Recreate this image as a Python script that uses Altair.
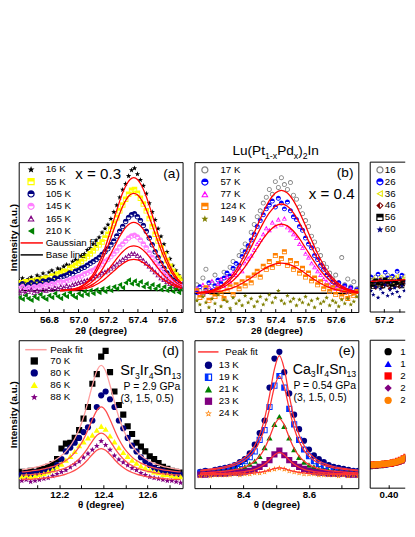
import json, math
import altair as alt
import pandas as pd

FONT = "Liberation Sans"

# ---------------- panel (a): Lu(Pt1-xPdx)2In, x = 0.3 ----------------
A_LABELS = ["16 K", "55 K", "105 K", "145 K", "165 K", "210 K"]
A_X = [56.60, 56.62, 56.64, 56.66, 56.68, 56.70, 56.72, 56.74, 56.76, 56.78, 56.80, 56.82, 56.84, 56.86,
       56.88, 56.90, 56.92, 56.94, 56.96, 56.98, 57.00, 57.02, 57.04, 57.06, 57.08, 57.10, 57.12, 57.14,
       57.16, 57.18, 57.20, 57.22, 57.24, 57.26, 57.28, 57.30, 57.32, 57.34, 57.36, 57.38, 57.40, 57.42,
       57.44, 57.46, 57.48, 57.50, 57.52, 57.54, 57.56, 57.58, 57.60, 57.62, 57.64, 57.66, 57.68, 57.70]
A_16K = [32, 35, 31, 34, 36, 33, 38, 36, 40, 37, 41, 43, 40, 45, 44, 47, 49, 48, 52, 54, 53, 58, 60, 64, 66, 70,
         74, 77, 82, 86, 90, 96, 103, 110, 118, 126, 132, 140, 146, 148, 142, 136, 130, 122, 112, 103, 95, 86,
         78, 70, 62, 55, 48, 43, 38, 34]
A_55K = [30, 28, 31, 29, 32, 30, 33, 31, 34, 35, 33, 37, 36, 39, 40, 42, 41, 45, 46, 48, 50, 52, 55, 57, 60, 63,
         66, 69, 72, 76, 80, 85, 91, 97, 104, 110, 116, 121, 125, 126, 122, 117, 111, 104, 96, 88, 80, 73, 66,
         59, 53, 47, 42, 38, 35, 32]
A_105K = [27, 29, 26, 28, 30, 28, 31, 29, 32, 31, 33, 32, 35, 34, 36, 37, 38, 40, 39, 42, 43, 45, 46, 48, 50, 52,
          54, 56, 59, 62, 65, 69, 73, 78, 83, 88, 93, 97, 100, 101, 98, 94, 89, 83, 76, 69, 62, 56, 50, 45, 40,
          36, 33, 31, 29, 28]
A_145K = [24, 26, 23, 25, 24, 26, 25, 27, 26, 28, 27, 29, 28, 30, 31, 30, 32, 33, 34, 35, 36, 37, 39, 40, 42, 43,
          45, 47, 49, 52, 54, 57, 60, 63, 67, 70, 73, 76, 78, 79, 77, 74, 70, 66, 61, 56, 51, 47, 43, 39, 36, 33,
          31, 29, 27, 26]
A_165K = [20, 22, 19, 21, 23, 20, 22, 21, 23, 22, 24, 23, 25, 24, 26, 25, 27, 26, 28, 29, 30, 31, 32, 33, 34, 35,
          37, 38, 40, 41, 43, 45, 47, 49, 52, 54, 56, 58, 60, 60, 58, 56, 53, 50, 47, 44, 41, 38, 35, 33, 31, 29,
          27, 26, 25, 24]
A_210K = [15, 13, 17, 14, 12, 16, 14, 18, 15, 13, 17, 15, 19, 16, 14, 18, 16, 20, 17, 15, 19, 17, 21, 18, 22, 19,
          23, 20, 24, 21, 25, 22, 26, 24, 28, 25, 30, 33, 29, 32, 28, 31, 26, 29, 25, 28, 24, 27, 23, 26, 22, 25,
          21, 24, 20, 23]
A_FIT_X = [56.875, 56.9, 56.925, 56.95, 56.975, 57.0, 57.025, 57.05, 57.075, 57.1, 57.125, 57.15, 57.175, 57.2,
           57.225, 57.25, 57.275, 57.3, 57.325, 57.35, 57.375, 57.4, 57.425, 57.45, 57.475, 57.5, 57.525, 57.55,
           57.575, 57.6, 57.625, 57.65, 57.675, 57.7]
A_FIT_16K = [22.2, 22.4, 22.7, 23.2, 24.0, 25.2, 27.1, 29.8, 33.7, 38.9, 45.6, 53.9, 63.8, 75.1, 87.3, 99.9, 111.9,
             122.5, 130.8, 136.2, 138.0, 136.2, 130.8, 122.5, 111.9, 99.9, 87.3, 75.1, 63.8, 53.9, 45.6, 38.9,
             33.7, 29.8]
A_FIT_55K = [22.2, 22.3, 22.6, 23.0, 23.7, 24.8, 26.4, 28.8, 32.1, 36.5, 42.3, 49.5, 58.0, 67.8, 78.3, 89.1, 99.5,
             108.7, 115.8, 120.4, 122.0, 120.4, 115.8, 108.7, 99.5, 89.1, 78.3, 67.8, 58.0, 49.5, 42.3, 36.5,
             32.1, 28.8]
A_FIT_105K = [22.1, 22.2, 22.4, 22.7, 23.2, 23.9, 25.1, 26.7, 29.0, 32.2, 36.2, 41.2, 47.2, 54.1, 61.4, 69.0, 76.3,
              82.7, 87.7, 90.9, 92.0, 90.9, 87.7, 82.7, 76.3, 69.0, 61.4, 54.1, 47.2, 41.2, 36.2, 32.2, 29.0, 26.7]
A_FIT_145K = [22.1, 22.1, 22.3, 22.5, 22.8, 23.3, 24.0, 25.1, 26.6, 28.7, 31.3, 34.6, 38.6, 43.1, 47.9, 52.9, 57.7,
              61.9, 65.2, 67.3, 68.0, 67.3, 65.2, 61.9, 57.7, 52.9, 47.9, 43.1, 38.6, 34.6, 31.3, 28.7, 26.6, 25.1]
A_FIT_165K = [22.1, 22.1, 22.2, 22.3, 22.5, 22.9, 23.4, 24.2, 25.2, 26.6, 28.5, 30.8, 33.5, 36.7, 40.0, 43.5, 46.8,
              49.7, 52.0, 53.5, 54.0, 53.5, 52.0, 49.7, 46.8, 43.5, 40.0, 36.7, 33.5, 30.8, 28.5, 26.6, 25.2, 24.2]
A_BASE_X = [56.595, 57.706]
A_BASE_Y = [22, 22]
A_XDOM = [56.595, 57.706]
A_MAJOR = [56.8, 57.0, 57.2, 57.4, 57.6]
A_MINOR = [56.7, 56.9, 57.1, 57.3, 57.5, 57.7]

# ---------------- panel (b): x = 0.4 ----------------
B_LABELS = ["17 K", "57 K", "77 K", "124 K", "149 K"]
B_X = [57.14, 57.15, 57.16, 57.17, 57.18, 57.19, 57.20, 57.21, 57.22, 57.23, 57.24, 57.25, 57.26, 57.27, 57.28,
       57.29, 57.30, 57.31, 57.32, 57.33, 57.34, 57.35, 57.36, 57.37, 57.38, 57.39, 57.40, 57.41, 57.42, 57.43,
       57.44, 57.45, 57.46, 57.47, 57.48, 57.49, 57.50, 57.51, 57.52, 57.53, 57.54, 57.55, 57.56, 57.57, 57.58,
       57.59, 57.60, 57.61, 57.62, 57.63, 57.64, 57.65, 57.66, 57.67]
B_17K = [28, 22, 35, 44, 24, 30, 38, 27, 33, 41, 36, 46, 52, 44, 58, 63, 70, 66, 82, 90, 98, 104, 112, 118, 126,
         121, 134, 128, 138, 131, 126, 133, 120, 116, 108, 101, 94, 88, 78, 72, 64, 58, 50, 46, 40, 34, 38, 30,
         56, 28, 34, 26, 31, 24]
B_57K = [20, 26, 18, 23, 30, 22, 27, 33, 29, 35, 40, 37, 45, 50, 48, 57, 62, 68, 74, 80, 88, 94, 100, 106, 110,
         114, 108, 117, 112, 106, 113, 104, 98, 95, 88, 84, 76, 70, 66, 58, 54, 48, 44, 38, 36, 31, 28, 30, 24,
         27, 22, 25, 20, 23]
B_77K = [24, 19, 28, 21, 26, 32, 23, 29, 34, 27, 36, 31, 40, 38, 45, 42, 50, 55, 58, 64, 70, 74, 80, 86, 84, 92,
         88, 95, 90, 96, 87, 84, 80, 76, 70, 66, 60, 56, 50, 46, 42, 38, 34, 31, 28, 26, 24, 27, 22, 25, 21, 24,
         20, 22]
B_124K = [22, 15, 18, 25, 12, 20, 16, 24, 19, 14, 22, 26, 18, 28, 24, 31, 27, 35, 30, 38, 42, 36, 47, 44, 52, 46,
          58, 50, 55, 62, 48, 53, 44, 50, 40, 45, 36, 40, 32, 35, 28, 31, 24, 27, 21, 25, 18, 22, 16, 20, 14, 19,
          17, 21]
B_149K = [12, 8, 16, 10, 5, 14, 9, 18, 6, 13, 11, 4, 15, 9, 12, 7, 17, 10, 14, 6, 11, 16, 8, 13, 18, 10, 15, 22,
          12, 9, 17, 11, 14, 7, 13, 10, 16, 8, 12, 5, 14, 9, 11, 15, 7, 12, 10, 6, 13, 9, 14, 8, 11, 16]
B_FIT_X = [57.14, 57.16, 57.18, 57.2, 57.22, 57.24, 57.26, 57.28, 57.3, 57.32, 57.34, 57.36, 57.38, 57.4, 57.42,
           57.44, 57.46, 57.48, 57.5, 57.52, 57.54, 57.56, 57.58, 57.6, 57.62, 57.64, 57.66, 57.68]
B_FIT_17K = [19.9, 20.5, 21.6, 23.6, 26.8, 31.8, 38.8, 48.3, 60.1, 73.9, 88.6, 102.6, 114.4, 122.2, 125.0, 122.2,
             114.4, 102.6, 88.6, 73.9, 60.1, 48.3, 38.8, 31.8, 26.8, 23.6, 21.6, 20.5]
B_FIT_57K = [19.8, 20.4, 21.3, 23.1, 25.8, 30.1, 36.2, 44.4, 54.7, 66.7, 79.4, 91.6, 101.8, 108.6, 111.0, 108.6,
             101.8, 91.6, 79.4, 66.7, 54.7, 44.4, 36.2, 30.1, 25.8, 23.1, 21.3, 20.4]
B_FIT_77K = [19.7, 20.1, 20.9, 22.2, 24.4, 27.7, 32.4, 38.8, 46.7, 56.0, 65.8, 75.3, 83.2, 88.5, 90.3, 88.5, 83.2,
             75.3, 65.8, 56.0, 46.7, 38.8, 32.4, 27.7, 24.4, 22.2, 20.9, 20.1]
B_FIT_124K = [19.5, 19.7, 20.0, 20.6, 21.5, 23.0, 25.0, 27.8, 31.3, 35.3, 39.6, 43.7, 47.2, 49.5, 50.3, 49.5, 47.2,
              43.7, 39.6, 35.3, 31.3, 27.8, 25.0, 23.0, 21.5, 20.6, 20.0, 19.7]
B_BASE_X = [57.132, 57.675]
B_BASE_Y = [19.3, 19.3]
B_XDOM = [57.132, 57.675]
B_MAJOR = [57.2, 57.3, 57.4, 57.5, 57.6]
B_MINOR = [57.15, 57.25, 57.35, 57.45, 57.55, 57.65]

# ---------------- panel (c): only its left strip is inside the window ----------------
C_LABELS = ["16", "26", "36", "46", "56", "60"]
C_X = [57.156, 57.164, 57.172, 57.180, 57.188, 57.196, 57.204, 57.212, 57.220, 57.228, 57.236, 57.244, 57.252,
       57.260, 57.268]
C_16K = [33, 28, 36, 30, 26, 34, 29, 38, 27, 32, 35, 28, 33, 30, 37]
C_26K = [36, 31, 27, 39, 33, 29, 41, 35, 30, 37, 32, 42, 34, 38, 31]
C_36K = [30, 34, 28, 32, 36, 29, 33, 31, 35, 28, 34, 37, 30, 33, 36]
C_46K = [27, 31, 25, 29, 33, 26, 30, 28, 24, 32, 27, 30, 26, 31, 29]
C_56K = [29, 26, 32, 28, 30, 27, 33, 29, 31, 26, 30, 28, 32, 27, 31]
C_60K = [22, 18, 26, 15, 24, 20, 28, 17, 23, 19, 25, 21, 16, 27, 22]
C_FIT_X = [57.154, 57.17, 57.19, 57.21, 57.23, 57.25, 57.27, 57.29]
C_FIT_Y = [31.6, 31.8, 32.0, 32.2, 32.5, 32.8, 33.2, 33.7]
C_BASE_X = [57.1535, 57.2712]
C_BASE_Y = [30.3, 30.3]
C_XDOM = [57.1535, 57.2712]
C_MAJOR = [57.2]
C_MINOR = [57.25]

# ---------------- panel (d): Sr3Ir4Sn13 ----------------
D_LABELS = ["70 K", "80 K", "86 K", "88 K"]
D_X = [12.03, 12.05, 12.07, 12.09, 12.11, 12.13, 12.15, 12.17, 12.19, 12.21, 12.23, 12.25, 12.27, 12.29, 12.31,
       12.33, 12.35, 12.37, 12.39, 12.41, 12.43, 12.45, 12.47, 12.49, 12.51, 12.53, 12.55, 12.57, 12.59, 12.61,
       12.63, 12.65, 12.67, 12.69, 12.71, 12.73, 12.75]
D_70K = [17, 16, 18, 17, 19, 20, 22, 25, 30, 41, 46, 47, 52, 60, 72, 84, 108, 118, 136, 142, 120, 100, 86, 76, 64,
         56, 47, 43, 38, 33, 30, 26, 22, 20, 18, 17, 16]
D_80K = [14, 15, 14, 16, 15, 17, 18, 20, 24, 30, 38, 42, 47, 52, 58, 63, 70, 84, 96, 100, 92, 84, 70, 62, 52, 44,
         38, 32, 28, 24, 21, 19, 18, 16, 15, 15, 14]
D_86K = [12, 13, 12, 13, 14, 15, 17, 19, 22, 25, 29, 33, 38, 44, 48, 52, 55, 60, 64, 61, 54, 48, 42, 37, 33, 29,
         26, 23, 21, 19, 17, 16, 14, 14, 13, 12, 12]
D_88K = [8, 9, 7, 8, 9, 10, 11, 13, 15, 17, 19, 22, 25, 28, 32, 36, 40, 44, 49, 45, 40, 34, 30, 27, 24, 21, 19, 16,
         14, 12, 11, 10, 9, 8, 8, 7, 6]
D_FIT_70K = [19.0, 19.7, 20.5, 21.5, 22.6, 24.0, 25.7, 27.8, 30.4, 33.7, 38.1, 43.7, 51.1, 60.9, 73.4, 89.1, 106.4,
             121.1, 127.0, 121.1, 106.4, 89.1, 73.4, 60.9, 51.1, 43.7, 38.1, 33.7, 30.4, 27.8, 25.7, 24.0, 22.6,
             21.5, 20.5, 19.7, 19.0]
D_FIT_80K = [16.8, 17.2, 17.7, 18.3, 19.0, 19.9, 20.9, 22.2, 23.9, 25.9, 28.6, 32.1, 36.7, 42.8, 50.6, 60.4, 71.1,
             80.3, 84.0, 80.3, 71.1, 60.4, 50.6, 42.8, 36.7, 32.1, 28.6, 25.9, 23.9, 22.2, 20.9, 19.9, 19.0, 18.3,
             17.7, 17.2, 16.8]
D_FIT_86K = [13.4, 13.7, 14.0, 14.4, 14.9, 15.4, 16.1, 17.0, 18.0, 19.4, 21.1, 23.4, 26.4, 30.3, 35.4, 41.7, 48.7,
             54.6, 57.0, 54.6, 48.7, 41.7, 35.4, 30.3, 26.4, 23.4, 21.1, 19.4, 18.0, 17.0, 16.1, 15.4, 14.9, 14.4,
             14.0, 13.7, 13.4]
D_FIT_88K = [8.8, 9.0, 9.2, 9.5, 9.9, 10.3, 10.8, 11.4, 12.2, 13.2, 14.5, 16.2, 18.4, 21.3, 25.0, 29.7, 34.8, 39.2,
             41.0, 39.2, 34.8, 29.7, 25.0, 21.3, 18.4, 16.2, 14.5, 13.2, 12.2, 11.4, 10.8, 10.3, 9.9, 9.5, 9.2,
             9.0, 8.8]
D_XDOM = [12.016, 12.759]
D_MAJOR = [12.2, 12.4, 12.6]
D_MINOR = [12.1, 12.3, 12.5, 12.7]

# ---------------- panel (e): Ca3Ir4Sn13 ----------------
E_LABELS = ["13 K", "19 K", "21 K", "23 K", "24 K"]
E_X = [8.27, 8.285, 8.30, 8.315, 8.33, 8.345, 8.36, 8.375, 8.39, 8.405, 8.42, 8.435, 8.45, 8.465, 8.48, 8.495,
       8.51, 8.525, 8.54, 8.555, 8.57, 8.585, 8.60, 8.615, 8.63, 8.645, 8.66, 8.675, 8.69, 8.705, 8.72, 8.735,
       8.75]
E_13K = [17, 18, 17, 19, 20, 21, 22, 24, 27, 30, 36, 45, 57, 70, 104, 134, 141, 120, 98, 76, 61, 49, 40, 34, 30,
         27, 24, 22, 21, 20, 19, 18, 18]
E_19K = [16, 17, 17, 18, 19, 20, 21, 23, 25, 28, 32, 38, 50, 60, 84, 106, 116, 104, 82, 66, 50, 40, 33, 28, 25,
         23, 21, 20, 19, 18, 17, 17, 16]
E_21K = [15, 15, 16, 16, 17, 17, 18, 19, 20, 22, 25, 28, 33, 42, 52, 66, 74, 64, 52, 40, 32, 27, 24, 22, 20, 19,
         18, 17, 17, 16, 16, 15, 15]
E_23K = [14, 14, 15, 15, 15, 15, 16, 16, 16, 17, 18, 20, 22, 25, 29, 35, 39, 34, 29, 25, 22, 20, 18, 17, 16, 16,
         15, 15, 15, 15, 14, 14, 14]
E_24K = [13, 14, 13, 14, 14, 14, 14, 15, 14, 15, 15, 16, 16, 17, 19, 20, 21, 20, 18, 17, 16, 15, 15, 15, 14, 14,
         14, 14, 13, 14, 13, 14, 13]
E_FIT_13K = [18.6, 19.1, 19.7, 20.4, 21.3, 22.4, 23.9, 25.8, 28.3, 31.8, 36.8, 44.1, 55.1, 71.8, 95.8, 123.2, 137.0,
             123.2, 95.8, 71.8, 55.1, 44.1, 36.8, 31.8, 28.3, 25.8, 23.9, 22.4, 21.3, 20.4, 19.7, 19.1, 18.6]
E_FIT_19K = [18.0, 18.4, 18.9, 19.5, 20.2, 21.1, 22.3, 23.9, 26.0, 28.9, 33.1, 39.1, 48.2, 62.0, 81.9, 104.6, 116.0,
             104.6, 81.9, 62.0, 48.2, 39.1, 33.1, 28.9, 26.0, 23.9, 22.3, 21.1, 20.2, 19.5, 18.9, 18.4, 18.0]
E_FIT_21K = [15.7, 16.0, 16.2, 16.6, 17.0, 17.5, 18.2, 19.1, 20.3, 22.0, 24.4, 27.8, 33.1, 41.0, 52.4, 65.4, 72.0,
             65.4, 52.4, 41.0, 33.1, 27.8, 24.4, 22.0, 20.3, 19.1, 18.2, 17.5, 17.0, 16.6, 16.2, 16.0, 15.7]
E_FIT_23K = [14.7, 14.8, 14.9, 15.0, 15.2, 15.4, 15.7, 16.0, 16.5, 17.2, 18.1, 19.5, 21.6, 24.7, 29.2, 34.4, 37.0,
             34.4, 29.2, 24.7, 21.6, 19.5, 18.1, 17.2, 16.5, 16.0, 15.7, 15.4, 15.2, 15.0, 14.9, 14.8, 14.7]
E_FIT_24K = [14.2, 14.2, 14.3, 14.3, 14.4, 14.4, 14.5, 14.6, 14.8, 15.0, 15.3, 15.7, 16.3, 17.3, 18.6, 20.2, 21.0,
             20.2, 18.6, 17.3, 16.3, 15.7, 15.3, 15.0, 14.8, 14.6, 14.5, 14.4, 14.4, 14.3, 14.3, 14.2, 14.2]
E_XDOM = [8.252, 8.75]
E_MAJOR = [8.4, 8.6]
E_MINOR = [8.3, 8.5, 8.7]

# ---------------- panel (f): only its left strip is inside the window ----------------
ZW = "\u200b"
F_LABELS = ["1", "1" + ZW, "2", "2" + ZW, "2" + ZW + ZW]
F_X = [0.381, 0.384, 0.387, 0.390, 0.393, 0.396, 0.399, 0.402, 0.405, 0.408, 0.411, 0.414, 0.417, 0.420, 0.423]
F_10K = [23, 23.5, 23.5, 24, 24, 24.5, 25, 25.5, 26, 26.5, 27.5, 28.5, 30, 31.5, 33.5]
F_15K = [23.5, 23.5, 24, 24, 24.5, 24.5, 25, 25.5, 26, 27, 27.5, 28.5, 30, 31.5, 33.5]
F_20K = [24, 24, 24, 24.5, 24.5, 25, 25.5, 25.5, 26.5, 27, 28, 29, 30.5, 32, 34]
F_22K = [23.5, 23.5, 24, 24, 24.5, 25, 25, 25.5, 26, 27, 27.5, 28.5, 30, 31.5, 33.5]
F_24K = [24, 24, 24.5, 24.5, 25, 25, 25.5, 26, 26.5, 27, 28, 29, 30.5, 32, 34]
F_XDOM = [0.38, 0.4184]
F_MAJOR = [0.40]
F_MINOR = []

# ---------------- marker shapes (unit paths) ----------------
def _n(v):
    s = f"{v:.3f}".rstrip("0").rstrip(".")
    return "0" if s in ("-0", "", "-") else s

def poly(pts):
    return "M" + "L".join(f"{_n(x)},{_n(y)}" for x, y in pts) + "Z"

def ring(pts, k):
    cx = sum(p[0] for p in pts) / len(pts)
    cy = sum(p[1] for p in pts) / len(pts)
    inner = [(cx + (x - cx) * k, cy + (y - cy) * k) for x, y in reversed(pts)]
    return poly(pts) + poly(inner)

STAR_PTS = [((1.0 if i % 2 == 0 else 0.42) * math.cos(-math.pi / 2 + i * math.pi / 5),
             (1.0 if i % 2 == 0 else 0.42) * math.sin(-math.pi / 2 + i * math.pi / 5) + 0.1) for i in range(10)]
STAR = poly(STAR_PTS)
STAR_OPEN = ring(STAR_PTS, 0.45)
CIRCLE_OPEN = ("M1,0A1,1,0,1,1,-1,0A1,1,0,1,1,1,0Z"
               "M0.66,0A0.66,0.66,0,1,0,-0.66,0A0.66,0.66,0,1,0,0.66,0Z")
HALF_CIRCLE = "M-1,0A1,1,0,0,1,1,0ZM1,0A1,1,0,0,1,-1,0L-0.66,0A0.66,0.66,0,0,0,0.66,0Z"
HALF_SQUARE = "M-1,-1L1,-1L1,0L-1,0ZM-1,0L-1,1L1,1L1,0L0.68,0L0.68,0.68L-0.68,0.68L-0.68,0Z"
HALF_SQUARE_LEFT = "M-1,-1L0,-1L0,1L-1,1ZM0,-1L1,-1L1,1L0,1L0,0.68L0.68,0.68L0.68,-0.68L0,-0.68Z"
HALF_TRIANGLE = ("M0,-1L0.556,0L-0.556,0Z"
                 "M-0.556,0L-1,0.8L1,0.8L0.556,0L0.236,0L0.52,0.52L-0.52,0.52L-0.236,0Z")
HALF_DIAMOND = "M0,-1L-1,0L0,1ZM0,-1L1,0L0,1L0,0.6L0.6,0L0,-0.6Z"
TRI_LEFT_OPEN = ring([(-1, 0), (0.8, -1), (0.8, 1)], 0.5)
LINE_SYMBOL = "M-2,0L2,0"

A_COLORS = ["#000000", "#ffff00", "#000080", "#ff80ff", "#800080", "#008000"]
A_SHAPES = [STAR, HALF_SQUARE, HALF_CIRCLE, HALF_CIRCLE, HALF_TRIANGLE, "triangle-left"]
B_COLORS = ["#808080", "#0000ff", "#ff00ff", "#ff8000", "#808000"]
B_SHAPES = [CIRCLE_OPEN, HALF_CIRCLE, HALF_TRIANGLE, HALF_SQUARE, STAR]
C_COLORS = ["#808080", "#0000ff", "#e6e600", "#800000", "#000000", "#000080"]
C_SHAPES = [CIRCLE_OPEN, HALF_CIRCLE, TRI_LEFT_OPEN, HALF_DIAMOND, HALF_SQUARE, STAR]
D_COLORS = ["#000000", "#000080", "#ffff00", "#800080"]
D_SHAPES = ["square", "circle", "triangle-up", STAR]
E_COLORS = ["#000080", "#0033ff", "#008000", "#800080", "#ff8000"]
E_SHAPES = ["circle", HALF_SQUARE_LEFT, "triangle-up", "square", STAR_OPEN]
F_COLORS = ["#000000", "#0000ff", "#ff0000", "#800080", "#ff8000"]
F_SHAPES = ["circle", "triangle-up", "square", "diamond", "circle"]

# ---------------- helpers ----------------
WIDTHS = {" ": 278, "(": 333, ")": 333, ",": 278, ".": 278, "-": 333, "=": 584, "x": 500, "a": 556,
          "d": 556, "n": 556, "r": 333, "t": 278, "u": 556, "S": 667, "I": 278, "C": 722, "L": 556, "P": 667,
          "G": 778}

def text_w(s, size):
    return sum(WIDTHS.get(ch, 556) for ch in s) * size / 1000.0

def long_df(xs, labels, series):
    rows = []
    for lab, ys in zip(labels, series):
        assert len(ys) == len(xs), (lab, len(ys), len(xs))
        for xv, yv in zip(xs, ys):
            rows.append({"x": xv, "y": yv, "T": lab})
    return pd.DataFrame(rows)

def txt(s, x, y, size, align="left", baseline="middle"):
    return alt.Chart(pd.DataFrame({"t": [s]})).mark_text(
        align=align, baseline=baseline, fontSize=size, font=FONT, color="black"
    ).encode(text="t:N", x=alt.value(x), y=alt.value(y))

def rich(segs, x0, y0):
    out, x = [], x0
    for s, size, dy in segs:
        out.append(txt(s, x, y0 + dy, size, align="left", baseline="alphabetic"))
        x += text_w(s, size)
    return out

def xaxis(title, major, minor, fmt, label_pad, title_pad):
    expr = "indexof(%s, datum.value) >= 0 ? datum.label : ''" % json.dumps(major)
    kw = dict(values=sorted(major + minor), format=fmt, labelExpr=expr,
              tickSize=3.5, offset=-3.5, domain=False, grid=False, labelPadding=label_pad,
              labelOverlap=False, labelFlush=False, tickColor="black", tickWidth=1)
    if title:
        return alt.Axis(title=title, titlePadding=title_pad, **kw)
    return alt.Axis(title=None, **kw)

YAXIS_T = alt.Axis(title="Intensity (a.u.)", labels=False, ticks=False, domain=False, grid=False,
                   titlePadding=0.5, titleFontSize=10.2)

def enc(xdom, ydom, xax, yax):
    return dict(x=alt.X("x:Q", scale=alt.Scale(domain=xdom, nice=False, zero=False), axis=xax),
                y=alt.Y("y:Q", scale=alt.Scale(domain=ydom, nice=False, zero=False), axis=yax))

# Vega legend layout: column width = max(ceil(sqrt(size) + strokeWidth), labelFontSize);
# symbol centre = legendX + width / 2, label start = legendX + width + labelOffset.
def pt_legend(x, y, row_pad, label_off, size=56):
    return alt.Legend(title=None, orient="none", legendX=x, legendY=y, padding=0, rowPadding=row_pad,
                      labelOffset=label_off, symbolSize=size, symbolStrokeWidth=0, symbolOpacity=1,
                      labelFontSize=10, labelFont=FONT, labelColor="black", labelLimit=0)

def line_legend(x, y, row_pad, label_off, size):
    return alt.Legend(title=None, orient="none", legendX=x, legendY=y, padding=0, rowPadding=row_pad,
                      labelOffset=label_off, symbolType=LINE_SYMBOL, symbolSize=size, symbolStrokeWidth=1.5,
                      labelFontSize=10, labelFont=FONT, labelColor="black", labelLimit=0)

def scatter(df, e, labels, colors, shapes, legend, size):
    return alt.Chart(df).mark_point(filled=True, opacity=1, size=size, strokeWidth=0, clip=True).encode(
        color=alt.Color("T:N", scale=alt.Scale(domain=labels, range=colors), legend=legend, sort=labels),
        shape=alt.Shape("T:N", scale=alt.Scale(domain=labels, range=shapes), legend=legend, sort=labels),
        order=alt.Order("o:Q"), **e)

def add_order(df, labels):
    df["o"] = df["T"].map({l: i for i, l in enumerate(labels)})
    return df

def open_frame(w, h):
    # left, top and bottom edges of a panel whose right part lies outside the window
    one = pd.DataFrame({"k": [0]})
    r = alt.Chart(one).mark_rule(color="black", strokeWidth=1)
    return [r.encode(x=alt.value(0), x2=alt.value(w), y=alt.value(0)),
            r.encode(x=alt.value(0), x2=alt.value(w), y=alt.value(h)),
            r.encode(x=alt.value(0), y=alt.value(0), y2=alt.value(h))]

TOP_H, BOT_H, W = 154, 152, 168.4
CUT_W = 36.0
YTOP, YBOT = [0, 154], [0, 153]
RED = "#ff0000"
NO_FRAME = alt.ViewBackground(stroke="transparent", strokeWidth=0)

# ---------------- build panel (a) ----------------
ea = enc(A_XDOM, YTOP, xaxis("2θ (degree)", A_MAJOR, A_MINOR, ".1f", 3, 1.5), YAXIS_T)
a_pts = add_order(long_df(A_X, A_LABELS, [A_16K, A_55K, A_105K, A_145K, A_165K, A_210K]), A_LABELS)
a_fit = long_df(A_FIT_X, A_LABELS[:5], [A_FIT_16K, A_FIT_55K, A_FIT_105K, A_FIT_145K, A_FIT_165K])
a_fit["kind"] = "Gaussian fit"
a_base = pd.DataFrame({"x": A_BASE_X, "y": A_BASE_Y, "T": "base", "kind": "Base line"})
a_stroke_leg = line_legend(6.9, 76.5, 0.3, 7.8, 132)
a_stroke = lambda: alt.Stroke("kind:N", scale=alt.Scale(domain=["Gaussian fit", "Base line"], range=[RED, "#000000"]),
                              legend=a_stroke_leg)
panel_a = alt.layer(
    alt.Chart(a_base).mark_line(strokeWidth=1.5, clip=True).encode(stroke=a_stroke(), detail="T:N", **ea),
    scatter(a_pts, ea, A_LABELS, A_COLORS, A_SHAPES, pt_legend(7.7, 2.3, 2.7, 10), 32),
    alt.Chart(a_fit).mark_line(strokeWidth=1.3, clip=True, interpolate="monotone").encode(
        stroke=a_stroke(), detail="T:N", **ea),
    txt("x = 0.3", 81.7, 12.3, 15.5, align="center"),
    txt("(a)", 165.7, 12.3, 14, align="right"),
).properties(width=W, height=TOP_H)

# ---------------- build panel (b) ----------------
eb = enc(B_XDOM, YTOP, xaxis("2θ (degree)", B_MAJOR, B_MINOR, ".1f", 3, 1.5), None)
b_pts = add_order(long_df(B_X, B_LABELS, [B_17K, B_57K, B_77K, B_124K, B_149K]), B_LABELS)
b_fit = long_df(B_FIT_X, B_LABELS[:4], [B_FIT_17K, B_FIT_57K, B_FIT_77K, B_FIT_124K])
b_base = pd.DataFrame({"x": B_BASE_X, "y": B_BASE_Y})
panel_b = alt.layer(
    alt.Chart(b_base).mark_line(strokeWidth=1.5, color="#000000", clip=True).encode(**eb),
    scatter(b_pts, eb, B_LABELS, B_COLORS, B_SHAPES, pt_legend(5.7, 3, 2.5, 11), 26),
    alt.Chart(b_fit).mark_line(strokeWidth=1.3, color=RED, clip=True, interpolate="monotone").encode(
        detail="T:N", **eb),
    txt("(b)", 163.4, 11.3, 14, align="right"),
    txt("x = 0.4", 141, 33, 15.5, align="center"),
    *rich([("Lu(Pt", 14, 0), ("1-x", 9, 3.5), ("Pd", 14, 0), ("x", 9, 3.5), (")", 14, 0), ("2", 9, 3.5),
           ("In", 14, 0)], 39, -7),
).properties(width=W, height=TOP_H)

# ---------------- build panel (c) ----------------
ec = enc(C_XDOM, YTOP, xaxis(None, C_MAJOR, C_MINOR, ".1f", 3, 1.5), None)
c_pts = add_order(long_df(C_X, C_LABELS, [C_16K, C_26K, C_36K, C_46K, C_56K, C_60K]), C_LABELS)
c_fit = pd.DataFrame({"x": C_FIT_X, "y": C_FIT_Y})
c_base = pd.DataFrame({"x": C_BASE_X, "y": C_BASE_Y})
panel_c = alt.layer(
    alt.Chart(c_base).mark_line(strokeWidth=1.5, color="#000000", clip=True).encode(**ec),
    scatter(c_pts, ec, C_LABELS, C_COLORS, C_SHAPES, pt_legend(5, 3, 2.2, 0), 24),
    alt.Chart(c_fit).mark_line(strokeWidth=1.3, color=RED, clip=True, interpolate="monotone").encode(**ec),
    *open_frame(CUT_W, TOP_H),
).properties(width=CUT_W, height=TOP_H, view=NO_FRAME)

# ---------------- build panel (d) ----------------
ed = enc(D_XDOM, YBOT, xaxis("θ (degree)", D_MAJOR, D_MINOR, ".1f", 1.5, 0), YAXIS_T)
d_pts = add_order(long_df(D_X, D_LABELS, [D_70K, D_80K, D_86K, D_88K]), D_LABELS)
d_fit70 = pd.DataFrame({"x": D_X, "y": D_FIT_70K, "kind": "Peak fit"})
d_fit = long_df(D_X, D_LABELS[1:], [D_FIT_80K, D_FIT_86K, D_FIT_88K])
panel_d = alt.layer(
    scatter(d_pts, ed, D_LABELS, D_COLORS, D_SHAPES, pt_legend(11, 16.3, 2.33, 11.4), 40),
    alt.Chart(d_fit70).mark_line(strokeWidth=1.3, clip=True, interpolate="monotone").encode(
        stroke=alt.Stroke("kind:N", scale=alt.Scale(domain=["Peak fit"], range=["#ffa0a0"]),
                          legend=line_legend(11.2, 3.2, 0, 8.2, 121)), **ed),
    alt.Chart(d_fit).mark_line(strokeWidth=1.3, color="#ff4d4d", clip=True, interpolate="monotone").encode(
        detail="T:N", **ed),
    txt("(d)", 164.7, 10.7, 14, align="right"),
    *rich([("Sr", 15, 0), ("3", 9, 3.5), ("Ir", 15, 0), ("4", 9, 3.5), ("Sn", 15, 0), ("13", 9, 3.5)], 104.4, 36),
    txt("P = 2.9 GPa", 107.7, 48.3, 10.7),
    txt("(3, 1.5, 0.5)", 104.7, 60.7, 10.7),
).properties(width=W, height=BOT_H)

# ---------------- build panel (e) ----------------
ee = enc(E_XDOM, YBOT, xaxis("θ (degree)", E_MAJOR, E_MINOR, ".1f", 1.5, 0), None)
e_pts = add_order(long_df(E_X, E_LABELS, [E_13K, E_19K, E_21K, E_23K, E_24K]), E_LABELS)
e_fit = long_df(E_X, E_LABELS, [E_FIT_13K, E_FIT_19K, E_FIT_21K, E_FIT_23K, E_FIT_24K])
e_fit["kind"] = "Peak fit"
panel_e = alt.layer(
    scatter(e_pts, ee, E_LABELS, E_COLORS, E_SHAPES, pt_legend(9.4, 20.7, 2.33, 5.6), 40),
    alt.Chart(e_fit).mark_line(strokeWidth=1.3, clip=True, interpolate="monotone").encode(
        stroke=alt.Stroke("kind:N", scale=alt.Scale(domain=["Peak fit"], range=["#ff3333"]),
                          legend=line_legend(8.2, 6, 0, 11.5, 110)), detail="T:N", **ee),
    txt("(e)", 165, 10.7, 14, align="right"),
    *rich([("Ca", 14.5, 0), ("3", 9, 3.5), ("Ir", 14.5, 0), ("4", 9, 3.5), ("Sn", 14.5, 0), ("13", 9, 3.5)],
          101, 34.3),
    txt("P = 0.54 GPa", 101.7, 47, 10.7),
    txt("(3, 1.5, 0.5)", 101.7, 59.7, 10.7),
).properties(width=W, height=BOT_H)

# ---------------- build panel (f) ----------------
ef = enc(F_XDOM, YBOT, xaxis(None, F_MAJOR, F_MINOR, ".2f", 1.5, 0), None)
f_pts = add_order(long_df(F_X, F_LABELS, [F_10K, F_15K, F_20K, F_22K, F_24K]), F_LABELS)
panel_f = alt.layer(
    scatter(f_pts, ef, F_LABELS, F_COLORS, F_SHAPES, pt_legend(13.4, 6.7, 2.5, 7.5), 48),
    *open_frame(CUT_W, BOT_H),
).properties(width=CUT_W, height=BOT_H, view=NO_FRAME)

chart = alt.concat(
    panel_a, panel_b, panel_c, panel_d, panel_e, panel_f,
    columns=3, spacing={"row": 29, "column": 11.6}, bounds="flush", align="each",
).resolve_scale(
    x="independent", y="independent", color="independent", shape="independent", stroke="independent"
).properties(
    padding={"left": 0, "top": 132.4, "right": 0, "bottom": 0}, background="white"
).configure_view(
    stroke="black", strokeWidth=1
).configure_axis(
    labelFont=FONT, titleFont=FONT, labelFontSize=10, titleFontSize=10, labelFontWeight="bold",
    titleFontWeight="bold", labelColor="black", titleColor="black", tickColor="black"
).configure_legend(labelFont=FONT, labelFontSize=10, labelColor="black")

chart.save("out.html", embed_options={"renderer": "svg", "actions": False})
